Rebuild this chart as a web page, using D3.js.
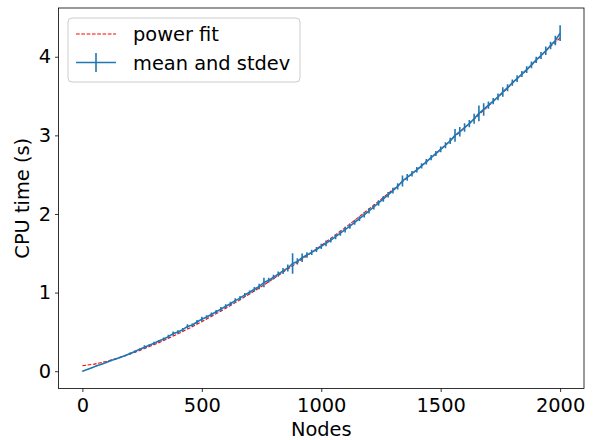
<!DOCTYPE html>
<html><head><meta charset="utf-8">
<script src="https://cdn.jsdelivr.net/npm/d3@7"></script>
<style>body{margin:0;background:#fff} text{font-family:"DejaVu Sans",sans-serif;fill:#000}</style>
</head><body><svg id="c" width="595" height="440"></svg>
<script>
// ---- data ----
const nodes = [0,20,40,60,80,100,120,140,160,180,200,220,240,260,280,300,320,340,360,380,
400,420,440,460,480,500,520,540,560,580,600,620,640,660,680,700,720,740,760,780,
800,820,840,860,880,900,920,940,960,980,1000,1020,1040,1060,1080,1100,1120,1140,1160,1180,
1200,1220,1240,1260,1280,1300,1320,1340,1360,1380,1400,1420,1440,1460,1480,1500,1520,1540,1560,1580,
1600,1620,1640,1660,1680,1700,1720,1740,1760,1780,1800,1820,1840,1860,1880,1900,1920,1940,1960,1980,2000];
const meanTime = [0.000,0.022,0.045,0.068,0.090,0.112,0.135,0.156,0.178,0.199,
0.226,0.252,0.280,0.305,0.330,0.356,0.384,0.410,0.440,0.478,
0.498,0.528,0.570,0.588,0.626,0.662,0.690,0.722,0.756,0.790,
0.826,0.858,0.898,0.930,0.970,1.004,1.042,1.078,1.128,1.156,
1.196,1.234,1.276,1.312,1.370,1.396,1.444,1.478,1.512,1.548,
1.588,1.626,1.668,1.712,1.756,1.800,1.846,1.894,1.940,1.990,
2.040,2.090,2.140,2.192,2.244,2.296,2.350,2.420,2.466,2.512,
2.562,2.612,2.664,2.716,2.768,2.822,2.874,2.930,3.000,3.046,
3.100,3.150,3.212,3.280,3.330,3.384,3.436,3.490,3.552,3.606,
3.670,3.722,3.780,3.836,3.896,3.960,4.016,4.076,4.144,4.206,4.300];
const stdevTime = [0.004,0.005,0.005,0.006,0.006,0.007,0.007,0.008,0.010,0.010,
0.012,0.016,0.012,0.024,0.014,0.018,0.014,0.020,0.024,0.026,
0.022,0.020,0.028,0.018,0.024,0.030,0.022,0.026,0.024,0.028,
0.026,0.024,0.030,0.028,0.026,0.024,0.028,0.034,0.060,0.032,
0.030,0.034,0.038,0.044,0.130,0.040,0.054,0.036,0.034,0.032,
0.034,0.036,0.030,0.034,0.032,0.036,0.034,0.032,0.030,0.036,
0.034,0.032,0.036,0.038,0.034,0.036,0.040,0.070,0.044,0.036,
0.034,0.032,0.036,0.034,0.032,0.036,0.038,0.040,0.080,0.060,
0.054,0.046,0.064,0.100,0.080,0.046,0.040,0.044,0.060,0.044,
0.040,0.044,0.038,0.044,0.042,0.040,0.044,0.054,0.048,0.060,0.100];
const fitNodes = [0,50,100,150,200,250,300,350,400,450,500,550,600,650,700,750,800,850,900,950,
1000,1050,1100,1150,1200,1250,1300,1350,1400,1450,1500,1550,1600,1650,1700,1750,1800,1850,1900,1950,2000];
const fitTime = [0.070,0.090,0.124,0.168,0.218,0.275,0.337,0.404,0.475,0.551,
0.630,0.714,0.800,0.890,0.982,1.078,1.177,1.279,1.382,1.489,
1.600,1.712,1.826,1.944,2.064,2.185,2.310,2.436,2.562,2.693,
2.822,2.960,3.096,3.235,3.374,3.513,3.661,3.803,3.951,4.102,4.240];
const xTicks = [0,500,1000,1500,2000];
const yTicks = [0,1,2,3,4];
const legendLabels = ["power fit","mean and stdev"];

// ---- drawing ----
const FS = 19.4;
const blue = "#1f77b4";
const L = 58.5, R = 584, T = 8, B = 388.5;
const svg = d3.select("#c");
const x = d3.scaleLinear().domain([-100,2100]).range([L,R]);
const y = d3.scaleLinear().domain([-0.22,4.62]).range([B,T]);

svg.append("defs").append("clipPath").attr("id","clip")
  .append("rect").attr("x",L).attr("y",T).attr("width",R-L).attr("height",B-T);
const plot = svg.append("g").attr("clip-path","url(#clip)");

const fitData = fitNodes.map((n,i)=>({n, v: fitTime[i]}));
const meanData = nodes.map((n,i)=>({n, v: meanTime[i], s: stdevTime[i]}));

plot.append("path").datum(fitData)
  .attr("d", d3.line().x(d=>x(d.n)).y(d=>y(d.v)))
  .attr("fill","none").attr("stroke","red").attr("stroke-width",1.1)
  .attr("stroke-dasharray","3.7,1.6");

plot.append("path").datum(meanData)
  .attr("d", d3.line().x(d=>x(d.n)).y(d=>y(d.v)))
  .attr("fill","none").attr("stroke",blue).attr("stroke-width",1.6)
  .attr("stroke-linejoin","round");

plot.selectAll("line.eb").data(meanData).join("line").attr("class","eb")
  .attr("x1",d=>x(d.n)).attr("x2",d=>x(d.n))
  .attr("y1",d=>y(d.v - d.s)).attr("y2",d=>y(d.v + d.s))
  .attr("stroke",blue).attr("stroke-width",1.6);

// axes
const xa = svg.append("g").attr("transform",`translate(0,${B})`)
  .call(d3.axisBottom(x).tickValues(xTicks).tickSize(3.5).tickPadding(5).tickFormat(d3.format("d")));
const ya = svg.append("g").attr("transform",`translate(${L},0)`)
  .call(d3.axisLeft(y).tickValues(yTicks).tickSize(3.5).tickPadding(4).tickFormat(d3.format("d")));
[xa,ya].forEach(a=>{
  a.select(".domain").remove();
  a.selectAll(".tick line").attr("stroke","#000").attr("stroke-width",0.8);
  a.selectAll(".tick text").attr("font-size",FS).attr("font-family","DejaVu Sans").attr("fill","#000");
});
xa.selectAll(".tick text").attr("dy","0.75em");

svg.append("rect").attr("x",L).attr("y",T).attr("width",R-L).attr("height",B-T)
  .attr("fill","none").attr("stroke","#000").attr("stroke-width",0.8);

svg.append("text").attr("x",(L+R)/2).attr("y",436).attr("text-anchor","middle")
  .attr("font-size",FS).text("Nodes");
svg.append("text").attr("transform",`translate(29,${(T+B)/2}) rotate(-90)`)
  .attr("text-anchor","middle").attr("font-size",FS).text("CPU time (s)");

// legend
const lg = svg.append("g");
lg.append("rect").attr("x",68).attr("y",18).attr("width",232).attr("height",64).attr("rx",4)
  .attr("fill","#fff").attr("fill-opacity",0.8).attr("stroke","#cccccc").attr("stroke-width",1);
lg.append("line").attr("x1",76).attr("x2",116).attr("y1",34).attr("y2",34)
  .attr("stroke","red").attr("stroke-width",1.1).attr("stroke-dasharray","3.7,1.6");
lg.append("line").attr("x1",76).attr("x2",116).attr("y1",62.5).attr("y2",62.5)
  .attr("stroke",blue).attr("stroke-width",1.6);
lg.append("line").attr("x1",96).attr("x2",96).attr("y1",53).attr("y2",72)
  .attr("stroke",blue).attr("stroke-width",1.6);
lg.selectAll("text.lt").data(legendLabels).join("text").attr("class","lt")
  .attr("x",133).attr("y",(d,i)=>41+i*29).attr("font-size",FS).text(d=>d);
</script></body></html>
